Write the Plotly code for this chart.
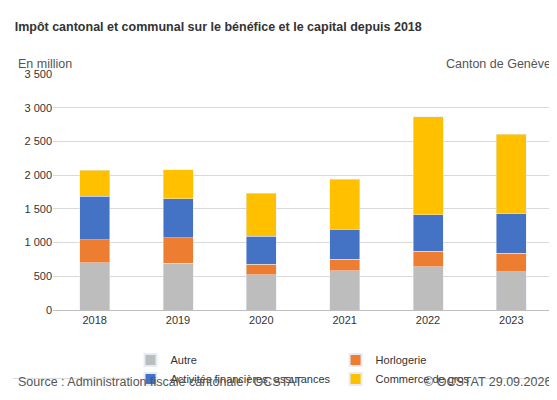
import plotly.graph_objects as go

years = ["2018", "2019", "2020", "2021", "2022", "2023"]
autre = [700, 690, 520, 580, 640, 565]
horlogerie = [340, 380, 160, 175, 235, 280]
finance = [650, 580, 415, 445, 535, 580]
commerce = [385, 430, 640, 740, 1455, 1185]

series = [("Autre", autre, "#BDBDBD"), ("Horlogerie", horlogerie, "#ED7D31"),
          ("Activités financières, assurances", finance, "#4472C4"),
          ("Commerce de gros", commerce, "#FFC000")]

fig = go.Figure()
for name, vals, col in series:
    fig.add_bar(x=years, y=vals, name=name, marker_color=col, width=0.36)

fig.update_layout(
    barmode="stack", width=557, height=400, plot_bgcolor="white", paper_bgcolor="white",
    font=dict(family="Liberation Sans, Arial", size=11, color="#333"),
    margin=dict(l=45, r=12, t=66, b=98, autoexpand=False),
    title=dict(text="<b>Impôt cantonal et communal sur le bénéfice et le capital depuis 2018</b>",
               x=0.012, xanchor="left", y=0.965, font=dict(size=12.5, color="#333")),
    yaxis=dict(range=[0, 3500], dtick=500, tickformat=",", gridcolor="#D9D9D9",
               zeroline=False, ticks="", tickfont=dict(size=11)),
    xaxis=dict(showline=True, linecolor="#BFBFBF", tickfont=dict(size=11)),
    separators=", ",
    legend=dict(orientation="h", x=0.5, xanchor="center", y=-0.15, yanchor="top",
                font=dict(size=11), traceorder="normal", itemwidth=30,
                entrywidthmode="pixels", entrywidth=0, itemsizing="constant"),
    showlegend=True,
)
fig.add_annotation(text="En million", xref="paper", yref="paper", x=-0.075, y=1.08,
                   xanchor="left", showarrow=False, font=dict(size=12.5, color="#555"))
fig.add_annotation(text="Canton de Genève", xref="paper", yref="paper", x=1.0, y=1.08,
                   xanchor="right", showarrow=False, font=dict(size=12.5, color="#555"))
fig.add_annotation(text="Source : Administration fiscale cantonale / OCSTAT", xref="paper", yref="paper",
                   x=-0.075, y=-0.345, xanchor="left", showarrow=False, font=dict(size=12.5, color="#555"))
fig.add_annotation(text="© OCSTAT 29.09.2026", xref="paper", yref="paper",
                   x=1.0, y=-0.345, xanchor="right", showarrow=False, font=dict(size=12.5, color="#555"))
fig.add_shape(type="line", xref="paper", yref="paper", x0=-0.08, x1=1.02, y0=-0.29, y1=-0.29,
              line=dict(color="#D9D9D9", width=1))
fig.write_html("out.html")
